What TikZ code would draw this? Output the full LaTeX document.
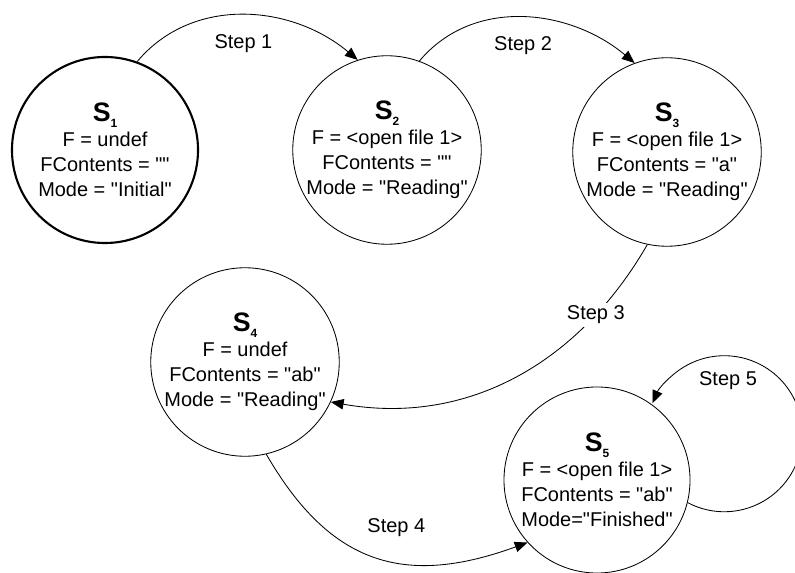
\documentclass[tikz,border=0pt]{standalone}
\usepackage{fontspec}
\setmainfont{Liberation Sans}[Ligatures=TeXOff]
\usetikzlibrary{arrows.meta}

\newcommand{\stname}[1]{{\fontsize{19}{19}\selectfont\bfseries S\raisebox{-4pt}{\fontsize{8.5}{8.5}\selectfont #1}}}

\tikzset{
  stnode/.style={circle, draw, line width=0.6pt, minimum size=4.65cm, inner sep=0pt,
    align=center, font=\fontsize{14.2}{17.8}\selectfont},
  trans/.style={-{Triangle[length=0.32cm,width=0.26cm]}, line width=0.6pt},
  steplbl/.style={font=\fontsize{14.2}{17}\selectfont, inner sep=2pt},
}

\begin{document}
\begin{tikzpicture}[x=0.025cm,y=0.025cm]
\useasboundingbox (0,0) rectangle (795,572);
% states
\node[stnode, line width=1.5pt] (s1) at (105,422) {\stname{1}\\F = undef\\FContents = ""\\Mode = "Initial"};
\node[stnode] (s2) at (387,422) {\stname{2}\\F = <open file 1>\\FContents = ""\\Mode = "Reading"};
\node[stnode] (s3) at (667,420) {\stname{3}\\F = <open file 1>\\FContents = "a"\\Mode = "Reading"};
\node[stnode] (s4) at (245,210) {\stname{4}\\F = undef\\FContents = "ab"\\Mode = "Reading"};
\node[stnode] (s5) at (597,92) {\stname{5}\\F = <open file 1>\\FContents = "ab"\\Mode="Finished"};
% transitions
\draw[trans] (s1.70) to[out=50,in=140] node[steplbl, midway, yshift=-0.7cm] {Step 1} (s2.108);
\draw[trans] (s2.70) to[out=50,in=140] node[steplbl, midway, yshift=-0.7cm] {Step 2} (s3.110);
\draw[trans] (s3.258) to[out=240,in=-10] node[steplbl, pos=0.22, fill=white] {Step 3} (s4.-25);
\draw[trans] (s4.283) to[out=-60,in=200,looseness=1.2] node[steplbl, pos=0.58, yshift=0.85cm] {Step 4} (s5.222);
\draw[trans] (s5.-14) arc[start angle=242, end angle=517, radius=1.95cm];
\node[steplbl] (lbl5) at (728,191) {Step 5};
\end{tikzpicture}
\end{document}
